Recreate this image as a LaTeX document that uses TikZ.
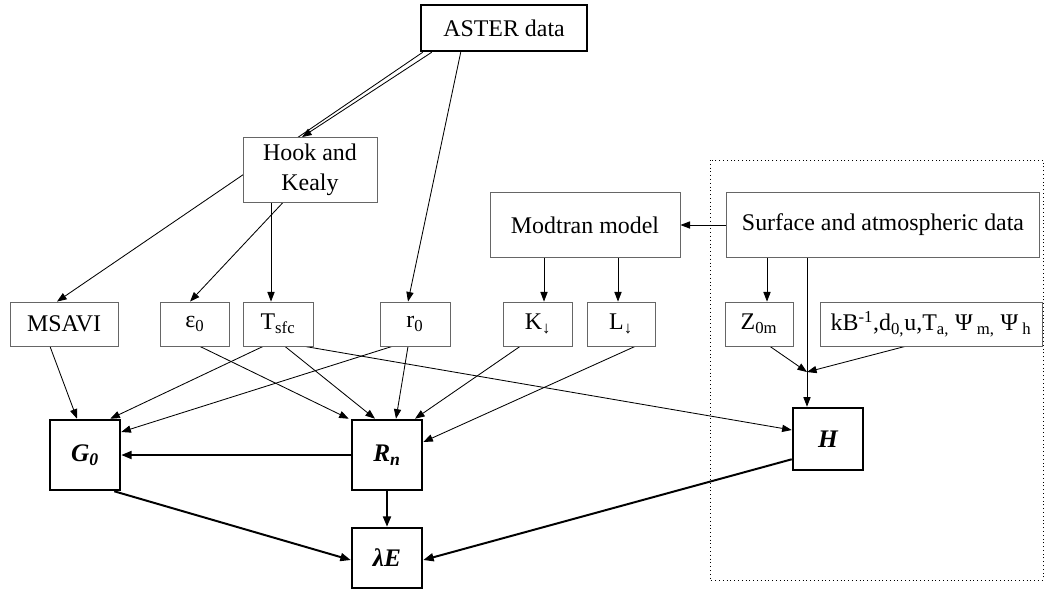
\documentclass[tikz,border=0pt]{standalone}
\usepackage{fontspec}
\setmainfont{Liberation Serif}
\usetikzlibrary{arrows.meta,calc}
\pgfdeclarelayer{background}
\pgfsetlayers{background,main}

\begin{document}
\begin{tikzpicture}[
      x=0.025cm, y=-0.025cm,
      every node/.style={font=\fontsize{17}{21}\selectfont},
      databox/.style={draw=black!60, fill=white, line width=0.6pt, align=center, inner sep=0pt, minimum height=1.1cm},
      stepbox/.style={draw=black!60, fill=white, line width=0.6pt, align=center, inner sep=0pt, minimum height=1.625cm},
      fluxbox/.style={draw, fill=white, line width=1.8pt, inner sep=0pt, minimum width=1.75cm, font=\fontsize{18}{21}\selectfont\bfseries\itshape},
      arrow/.style={-{Triangle[length=2.4mm,width=1.8mm]}, line width=0.6pt},
      bigarrow/.style={-{Triangle[length=2.6mm,width=2mm]}, line width=1.4pt}
  ]
    \useasboundingbox (0,0) rectangle (1044,595);

    \node[draw, fill=white, line width=1.8pt, inner sep=0pt, minimum width=4.15cm, minimum height=1.15cm] (aster) at (504,28) {ASTER data};
    \node[stepbox, minimum width=3.35cm] (hook) at (310,170) {Hook and\\Kealy};
    \node[stepbox, minimum width=4.75cm] (modtran) at (585,225) {Modtran model};
    \node[stepbox, minimum width=7.825cm] (surface) at (883,225) {Surface and atmospheric data};

    % input variables
    \node[databox, minimum width=2.7cm] (msavi) at (64,324) {MSAVI};
    \node[databox, minimum width=1.725cm] (eps) at (195,324) {ε\textsubscript{0}};
    \node[databox, minimum width=1.75cm] (tsfc) at (278,324) {T\textsubscript{sfc}};
    \node[databox, minimum width=1.75cm] (r0) at (415,324) {r\textsubscript{0}};
    \node[databox, minimum width=1.725cm] (kdown) at (538,324) {K\textsubscript{↓}};
    \node[databox, minimum width=1.7cm] (ldown) at (621,324) {L\textsubscript{↓}};
    \node[databox, minimum width=1.7cm] (z0m) at (759,324) {Z\textsubscript{0m}};
    \node[databox, minimum width=5.55cm] (kb) at (931,324) {kB\textsuperscript{-1},d\textsubscript{0,}u,T\textsubscript{a,} Ψ\,\textsubscript{m,} Ψ\,\textsubscript{h}};

    % energy balance terms
    \node[fluxbox, minimum height=1.75cm] (g0) at (85,455) {G\textsubscript{0}};
    \node[fluxbox, minimum height=1.75cm] (rn) at (387,455) {R\textsubscript{n}};
    \node[fluxbox, minimum height=1.55cm] (h) at (828,439) {H};
    \node[fluxbox, minimum height=1.5cm] (le) at (387,558) {λE};
    \coordinate (hjoin) at (807,372);

    % connectors go under the boxes
    \begin{pgfonlayer}{background}
    % surface data block
    \draw[dotted, line width=0.7pt] (710,160) rectangle (1043,580);

    \draw[arrow] ($(aster.south west)+(3,0)$) -- ($(msavi.north)+(-7,0)$);
    \draw[arrow] ($(aster.south west)+(12,0)$) -- ($(hook.north)+(-8,0)$);
    \draw[arrow] ($(aster.south west)+(41,0)$) -- ($(r0.north)+(-7,0)$);
    \draw[arrow] ($(hook.south west)+(40,0)$) -- ($(eps.north)+(-5,0)$);
    \coordinate (tsfcin) at ($(tsfc.north)+(-7,0)$);
    \draw[arrow] (tsfcin |- hook.south) -- (tsfcin);
    \coordinate (kin) at ($(kdown.north)+(6,0)$);
    \draw[arrow] (kin |- modtran.south) -- (kin);
    \coordinate (lin) at ($(ldown.north)+(-3,0)$);
    \draw[arrow] (lin |- modtran.south) -- (lin);
    \draw[arrow] (surface.west) -- (modtran.east);
    \coordinate (zin) at ($(z0m.north)+(8,0)$);
    \draw[arrow] (zin |- surface.south) -- (zin);
    \draw[arrow] (hjoin |- surface.south) -- (hjoin |- h.north);
    \draw[arrow] ($(z0m.south)+(11,0)$) -- (hjoin);
    \draw[arrow] ($(kb.south)+(-26,0)$) -- (hjoin);

    \draw[arrow] ($(msavi.south)+(-14,0)$) -- ($(g0.north)+(-8,0)$);
    \draw[arrow] ($(tsfc.south)+(-15,0)$) -- ($(g0.north east)+(-11,0)$);
    \draw[arrow] ($(r0.south)+(-23,0)$) -- ($(g0.east)+(0,-23)$);
    \draw[arrow] ($(eps.south)+(5,0)$) -- ($(rn.north west)+(-2,0)$);
    \draw[arrow] ($(tsfc.south)+(7,0)$) -- ($(rn.north)+(-12,0)$);
    \draw[arrow] ($(r0.south)+(-7,0)$) -- ($(rn.north)+(9,0)$);
    \draw[arrow] ($(kdown.south)+(-18,0)$) -- ($(rn.north)+(28,0)$);
    \draw[arrow] ($(ldown.south)+(14,0)$) -- ($(rn.east)+(0,-13)$);
    \draw[arrow] ($(tsfc.south)+(27,0)$) -- ($(h.west)+(0,-9)$);

    \draw[bigarrow] (rn.west) -- (g0.east);
    \draw[bigarrow] (rn.south) -- (le.north);
    \draw[bigarrow] ($(g0.south east)+(-7,0)$) -- ($(le.west)+(0,2)$);
    \draw[bigarrow] ($(h.south west)+(0,-12)$) -- ($(le.east)+(0,2)$);
    \end{pgfonlayer}
  \end{tikzpicture}
\end{document}
